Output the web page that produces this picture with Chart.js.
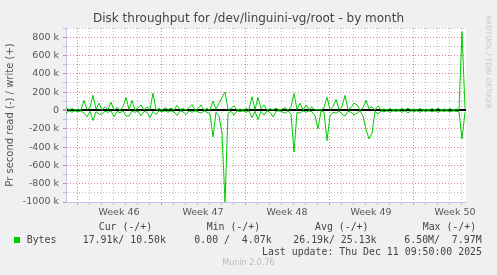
<!DOCTYPE html>
<html><head><meta charset="utf-8">
<script src="https://cdn.jsdelivr.net/npm/chart.js@4"></script>
<style>
html,body{margin:0;padding:0;background:#f0f0f0;}
#wrap{position:relative;width:497px;height:275px;overflow:hidden;background:#f0f0f0;}
#c{position:absolute;left:0;top:0;}
.t{position:absolute;white-space:pre;}
.mono{font-family:"DejaVu Sans Mono",monospace;font-size:9.9px;line-height:12px;color:#444;}
</style></head>
<body><div id="wrap">
<canvas id="c" width="497" height="275"></canvas>
<div class="t" style="left:0;top:11px;width:497px;text-align:center;font-family:'DejaVu Sans';font-size:12px;line-height:14px;color:#444;">Disk throughput for /dev/linguini-vg/root - by month</div>
<div class="t" style="left:484px;top:15px;writing-mode:vertical-rl;font-family:'DejaVu Sans';font-size:7.3px;color:#c8c8c8;">RRDTOOL / TOBI OETIKER</div>
<div class="t mono" style="left:98.7px;top:221px;">Cur (-/+)</div>
<div class="t mono" style="left:206.7px;top:221px;">Min (-/+)</div>
<div class="t mono" style="left:315px;top:221px;">Avg (-/+)</div>
<div class="t mono" style="left:422.7px;top:221px;">Max (-/+)</div>
<div class="t" style="left:14px;top:237px;width:6px;height:6px;background:#00cc00;"></div>
<div class="t mono" style="left:26.7px;top:234px;">Bytes</div>
<div class="t mono" style="left:82.7px;top:234px;">17.91k/ 10.50k</div>
<div class="t mono" style="left:194.3px;top:234px;">0.00 /  4.07k</div>
<div class="t mono" style="left:293.3px;top:234px;">26.19k/ 25.13k</div>
<div class="t mono" style="left:404.3px;top:234px;">6.50M/  7.97M</div>
<div class="t mono" style="right:15px;top:246px;text-align:right;">Last update: Thu Dec 11 09:50:00 2025</div>
<div class="t" style="left:0;top:258px;width:497px;text-align:center;font-family:'DejaVu Sans';font-size:8px;line-height:10px;color:#bbb;">Munin 2.0.76</div>
</div>
<script>
// sample step: 6 hours (0.25 day); first sample at day 0 of the plotted range
const sampleStepDays = 0.25;
const weekNumbers = [46, 47, 48, 49, 50];
const firstWeekStartDay = 0.9167; // day offset of Monday starting Week 46
const yTicksK = [800, 600, 400, 200, 0, -200, -400, -600, -800, -1000];

// write (+) bytes/s, in thousands
const writeK = [
  40,5,20,5,15,5,110,10,30,165,
  10,80,5,40,10,90,5,30,5,40,
  140,10,110,5,30,60,5,40,10,190,
  5,20,5,30,10,25,5,55,10,20,
  5,30,65,5,20,60,5,20,5,100,
  10,80,140,200,10,20,50,5,15,5,
  20,10,150,10,140,20,60,5,20,5,
  25,5,15,30,5,40,185,10,80,5,
  60,10,40,5,10,5,30,145,10,40,
  120,10,40,165,10,30,80,60,5,30,
  110,20,40,5,50,5,15,5,20,5,
  15,5,20,5,25,5,15,5,20,5,
  15,5,20,5,25,5,15,5,20,5,
  15,10,860,20
];
// read (-) bytes/s, in thousands (drawn negative)
const readK = [
  -30,-5,-20,-5,-15,-5,-30,-70,-10,-110,
  -15,-40,-40,-10,-20,-5,-70,-10,-25,-5,
  -60,-60,-10,-20,-5,-60,-10,-20,-80,-10,
  -45,-5,-15,-5,-20,-5,-15,-55,-5,-15,
  -45,-5,-20,-5,-15,-30,-5,-20,-40,-290,
  -20,-60,-250,-1000,-30,-10,-50,-5,-15,-5,
  -20,-5,-80,-10,-100,-10,-50,-5,-20,-70,
  -10,-5,-15,-30,-5,-40,-455,-20,-30,-5,
  -20,-5,-15,-60,-200,-5,-20,-330,-60,-20,
  -30,-5,-40,-60,-10,-20,-50,-30,-5,-60,
  -210,-310,-250,-10,-40,-5,-15,-5,-20,-5,
  -10,-5,-20,-5,-25,-5,-10,-5,-20,-5,
  -10,-5,-15,-5,-20,-5,-10,-5,-15,-5,
  -10,-15,-310,-20
];

const toPts = arr => arr.map((v, i) => ({x: i * sampleStepDays, y: v * 1000}));

const RED = 'rgba(222,110,110,0.85)';
const GREY = 'rgba(185,185,185,0.9)';
const NONE = 'rgba(0,0,0,0)';

function xKind(v){ return Math.round((v - firstWeekStartDay) / 0.5); }
function xGridColor(ctx){
  if (!ctx.tick) return GREY;
  const n = xKind(ctx.tick.value);
  if (Math.abs(n) % 2 === 1) return NONE;
  return n % 14 === 0 ? RED : GREY;
}
function yVal(ctx){ return ctx.tick ? Math.round(ctx.tick.value / 1000) : null; }

const bgPlugin = {
  id: 'plotbg',
  beforeDraw(chart){
    const {ctx, chartArea:a} = chart;
    ctx.save(); ctx.fillStyle = '#ffffff';
    ctx.fillRect(a.left, a.top, a.right - a.left, a.bottom - a.top);
    ctx.restore();
  }
};

new Chart(document.getElementById('c'), {
  type: 'line',
  data: {
    datasets: [
      {label: 'write', data: toPts(writeK), borderColor: '#00cc00', borderWidth: 1, pointRadius: 0, tension: 0},
      {label: 'read', data: toPts(readK), borderColor: '#00cc00', borderWidth: 1, pointRadius: 0, tension: 0}
    ]
  },
  plugins: [bgPlugin],
  options: {
    responsive: false, animation: false, devicePixelRatio: 1,
    layout: {padding: {top: 28, right: 31, bottom: 0, left: 0}},
    plugins: {legend: {display: false}, tooltip: {enabled: false}, title: {display: false}},
    scales: {
      x: {
        type: 'linear', min: 0, max: 400 / 12,
        afterFit(s){ s.height = 73; },
        afterBuildTicks(s){
          const t = [];
          for (let v = firstWeekStartDay; v <= 400/12 + 1e-6; v += 0.5) t.push({value: v});
          s.ticks = t;
        },
        ticks: {
          autoSkip: false, maxRotation: 0, minRotation: 0, padding: 2,
          color: '#555', font: {family: 'DejaVu Sans', size: 9.5},
          callback(v){
            const n = xKind(v);
            if (n % 14 === 7) { const w = weekNumbers[(n - 7) / 14]; return w !== undefined ? 'Week ' + w : ''; }
            return '';
          }
        },
        grid: {lineWidth: 1, tickLength: 3, drawTicks: true, color: xGridColor, tickColor: xGridColor},
        border: {display: true, color: '#c4c4ee', width: 1, dash(ctx){ return ctx.tick ? [1,2] : []; }}
      },
      y: {
        min: -1000000, max: 900000,
        afterFit(s){ s.width = 66; },
        ticks: {
          stepSize: 100000, autoSkip: false, padding: 4,
          color: '#555', font: {family: 'DejaVu Sans', size: 9.5},
          callback(v){
            const k = Math.round(v / 1000);
            if (!yTicksK.includes(k)) return '';
            return k === 0 ? '0' : k + ' k';
          }
        },
        grid: {
          tickLength: 3,
          color(ctx){ const v = yVal(ctx); if (v === 0) return '#000000'; return v !== null && v % 200 === 0 ? RED : GREY; },
          tickColor(ctx){ const v = yVal(ctx); return v !== null && v % 200 === 0 ? RED : GREY; },
          lineWidth(ctx){ return yVal(ctx) === 0 ? 2 : 1; }
        },
        border: {display: true, color: '#c4c4ee', width: 1,
          dash(ctx){ const v = yVal(ctx); return (v === null || v === 0) ? [] : [1,2]; }},
        title: {display: true, text: 'Pr second read (-) / write (+)', color: '#555',
          font: {family: 'DejaVu Sans', size: 10}, padding: {top: 4, bottom: 0}}
      }
    }
  }
});
</script>
</body></html>
